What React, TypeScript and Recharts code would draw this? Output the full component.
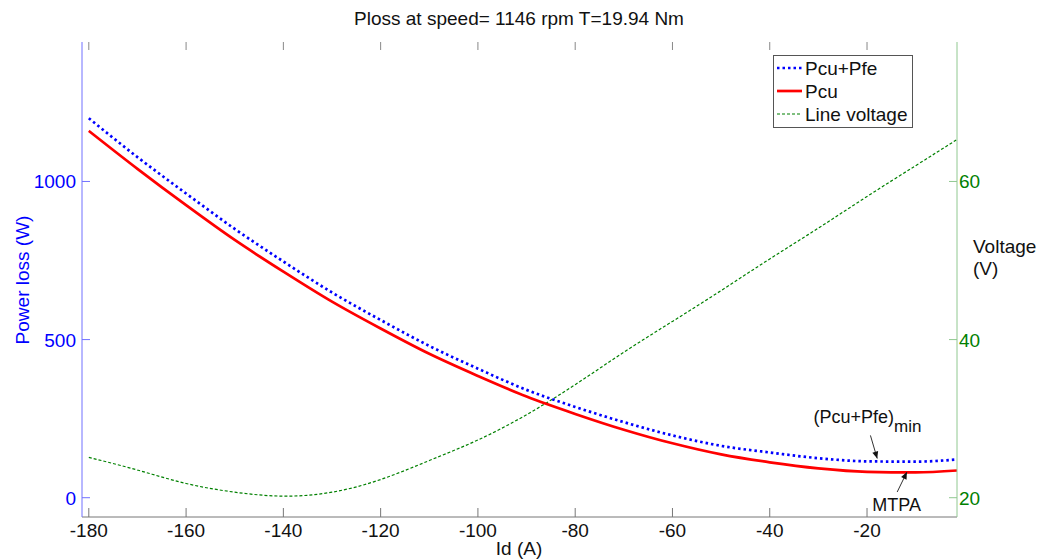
import React from "react";
import { LineChart, Line, XAxis, YAxis, Legend, ReferenceLine, ReferenceDot } from "recharts";

const idA = [-180, -170, -160, -150, -140, -130, -120, -110, -100, -90, -80, -70, -60, -50, -40, -30, -20, -10, -1.5];
const pcuPfe = [1200, 1077, 962, 850, 747, 649, 562, 480, 408, 341, 287, 239, 197, 164, 143, 125, 115, 114, 121];
const pcu = [1160, 1040, 925, 815, 715, 620, 535, 455, 385, 320, 265, 215, 172, 137, 112, 93, 82, 80, 86];
const lineVoltage = [25.1, 23.5, 21.8, 20.7, 20.2, 20.7, 22.3, 24.7, 27.3, 30.5, 34.3, 38.4, 42.3, 46.2, 50.2, 54.1, 58.1, 62.0, 65.3];

const xTicks = [-180, -160, -140, -120, -100, -80, -60, -40, -20];
const lossTicks = [0, 500, 1000];
const voltTicks = [20, 40, 60];

const data = idA.map((id, i) => ({ id, pcuPfe: pcuPfe[i], pcu: pcu[i], volt: lineVoltage[i] }));

const FONT = '"Liberation Sans", Arial, Helvetica, sans-serif';
const BLUE = "#0000ff";
const RED = "#ff0000";
const GREEN = "#008000";
const PLOT_H = 475;

// matlab style: ticks point inward, also mirrored on the top edge
function BottomTick({ x, y, payload }: any) {
  return (
    <g>
      <line x1={x} x2={x} y1={y} y2={y - 9} stroke="#777" />
      <line x1={x} x2={x} y1={y - PLOT_H} y2={y - PLOT_H + 8} stroke="#888" />
      <text x={x} y={y + 20} textAnchor="middle" fill="#111" fontSize={19} fontFamily={FONT}>
        {payload.value}
      </text>
    </g>
  );
}

function LeftTick({ x, y, payload }: any) {
  return (
    <g>
      <line x1={x} x2={x + 8} y1={y} y2={y} stroke="#7070ff" />
      <text x={x - 6} y={y} dy={7} textAnchor="end" fill={BLUE} fontSize={19} fontFamily={FONT}>
        {payload.value}
      </text>
    </g>
  );
}

function RightTick({ x, y, payload }: any) {
  return (
    <g>
      <line x1={x - 8} x2={x} y1={y} y2={y} stroke="#90c890" />
      <text x={x + 2} y={y} dy={7} textAnchor="start" fill={GREEN} fontSize={19} fontFamily={FONT}>
        {payload.value}
      </text>
    </g>
  );
}

function arrow(p: any) {
  const { x1, y1, x2, y2 } = p;
  const a = Math.atan2(y2 - y1, x2 - x1);
  const L = 7, W = 3;
  const bx = x2 - L * Math.cos(a), by = y2 - L * Math.sin(a);
  const pts = `${x2},${y2} ${bx + W * Math.sin(a)},${by - W * Math.cos(a)} ${bx - W * Math.sin(a)},${by + W * Math.cos(a)}`;
  return (
    <g>
      <line x1={x1} y1={y1} x2={x2} y2={y2} stroke="#333" strokeWidth={1} />
      <polygon points={pts} fill="#111" />
    </g>
  );
}

function LegendBox() {
  const rows = [
    { name: "Pcu+Pfe", color: BLUE, dash: "2.5 3", w: 2.7 },
    { name: "Pcu", color: RED, dash: undefined, w: 2.7 },
    { name: "Line voltage", color: GREEN, dash: "3 2", w: 1.2 },
  ];
  return (
    <svg width={140} height={73} style={{ display: "block" }}>
      <rect x={0.5} y={0.5} width={139} height={72} fill="#fff" stroke="#555" />
      {rows.map((r, i) => (
        <g key={r.name}>
          <line x1={4} x2={29} y1={13 + i * 23} y2={13 + i * 23} stroke={r.color} strokeWidth={r.w} strokeDasharray={r.dash} />
          <text x={32} y={20 + i * 23} fontSize={19} fontFamily={FONT} fill="#111">
            {r.name}
          </text>
        </g>
      ))}
    </svg>
  );
}

export default function App() {
  return (
    <div style={{ position: "absolute", left: 0, top: 0, width: 1046, height: 560, background: "#fff", fontFamily: FONT }}>
      <LineChart width={1046} height={560} data={data} margin={{ top: 42, right: 0, bottom: 0, left: 0 }}>
        <XAxis
          xAxisId="top"
          orientation="top"
          type="number"
          dataKey="id"
          domain={[-181.4, -1.5]}
          ticks={xTicks}
          allowDataOverflow
          height={0}
          tick={false}
          tickLine={false}
          axisLine={{ stroke: "#999" }}
        />
        <XAxis
          type="number"
          dataKey="id"
          domain={[-181.4, -1.5]}
          ticks={xTicks}
          allowDataOverflow
          height={43}
          tickSize={0}
          tickMargin={0}
          tickLine={false}
          tick={BottomTick}
          axisLine={{ stroke: "#777" }}
          label={(p: any) => (
            <g>
              <text x={519} y={555} textAnchor="middle" fontSize={19} fontFamily={FONT} fill="#111">
                Id (A)
              </text>
              <text x={519} y={25} textAnchor="middle" fontSize={19} fontFamily={FONT} fill="#111">
                Ploss at speed= 1146 rpm T=19.94 Nm
              </text>
            </g>
          )}
        />
        <YAxis
          yAxisId="left"
          orientation="left"
          domain={[-61, 1441]}
          ticks={lossTicks}
          allowDataOverflow
          width={82}
          tickSize={0}
          tickMargin={0}
          tickLine={false}
          tick={LeftTick}
          axisLine={{ stroke: "#7070ff" }}
          label={(p: any) => (
            <text x={29} y={280} textAnchor="middle" transform="rotate(-90, 29, 280)" fontSize={19} fontFamily={FONT} fill={BLUE}>
              Power loss (W)
            </text>
          )}
        />
        <YAxis
          yAxisId="right"
          orientation="right"
          domain={[17.56, 77.64]}
          ticks={voltTicks}
          allowDataOverflow
          width={89}
          tickSize={0}
          tickMargin={0}
          tickLine={false}
          tick={RightTick}
          axisLine={{ stroke: "#90c890" }}
          label={(p: any) => (
            <text x={973} y={253} fontSize={19} fontFamily={FONT} fill="#111">
              <tspan x={973}>Voltage</tspan>
              <tspan x={973} y={275}>(V)</tspan>
            </text>
          )}
        />
        <Legend
          layout="vertical"
          align="center"
          verticalAlign="middle"
          wrapperStyle={{ position: "absolute", left: 773, top: 55, width: 140, height: 73 }}
          content={LegendBox}
        />
        <Line
          yAxisId="right"
          type="natural"
          dataKey="volt"
          name="Line voltage"
          stroke={GREEN}
          strokeWidth={1.2}
          strokeDasharray="3 2"
          dot={false}
          isAnimationActive={false}
        />
        <Line
          yAxisId="left"
          type="monotone"
          dataKey="pcu"
          name="Pcu"
          stroke={RED}
          strokeWidth={2.7}
          dot={false}
          isAnimationActive={false}
        />
        <Line
          yAxisId="left"
          type="monotone"
          dataKey="pcuPfe"
          name="Pcu+Pfe"
          stroke={BLUE}
          strokeWidth={2.7}
          strokeDasharray="2.5 3"
          dot={false}
          isAnimationActive={false}
        />
        <ReferenceLine yAxisId="left" segment={[{ x: -19.3, y: 197 }, { x: -17.9, y: 124 }]} shape={arrow} />
        <ReferenceLine yAxisId="left" segment={[{ x: -13.8, y: 18 }, { x: -11.8, y: 81 }]} shape={arrow} />
        <ReferenceDot
          yAxisId="left"
          x={-31}
          y={235}
          r={0}
          shape={(p: any) => (
            <text x={p.cx} y={p.cy} fontSize={18} fontFamily={FONT} fill="#111">
              (Pcu+Pfe)
              <tspan dy={9} fontSize={17}>min</tspan>
            </text>
          )}
        />
        <ReferenceDot
          yAxisId="left"
          x={-18.9}
          y={-40.6}
          r={0}
          shape={(p: any) => (
            <text x={p.cx} y={p.cy} fontSize={18} fontFamily={FONT} fill="#111">
              MTPA
            </text>
          )}
        />
      </LineChart>
    </div>
  );
}
